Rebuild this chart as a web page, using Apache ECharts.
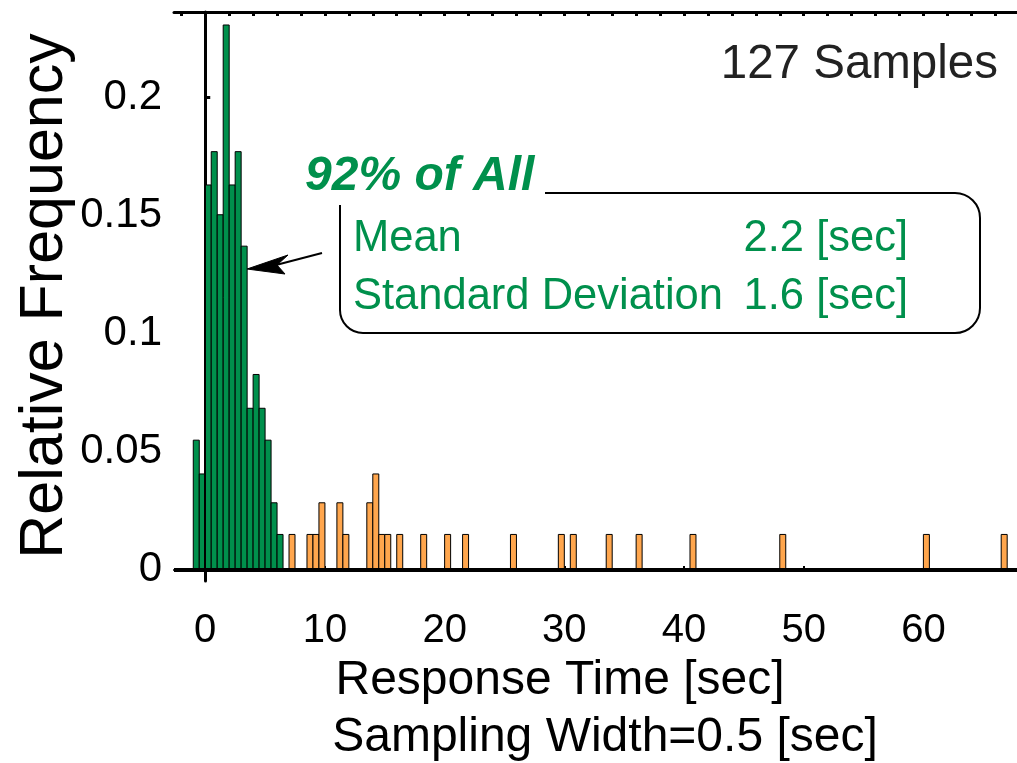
<!DOCTYPE html>
<html>
<head>
<meta charset="utf-8">
<script src="https://cdn.jsdelivr.net/npm/echarts@6/dist/echarts.min.js"></script>
<style>
  html, body { margin: 0; padding: 0; background: #fff; }
  #chart { width: 1017px; height: 763px; }
</style>
</head>
<body>
<div id="chart"></div>
<script>
// Histogram of response times, bin width 0.5 s (bin start values in seconds)
const binWidth = 0.5;

// Bins within the main cluster (green)
const mainBinStart = [-1, -0.5, 0, 0.5, 1, 1.5, 2, 2.5, 3, 3.5, 4, 4.5, 5, 5.5, 6];
const mainFreq = [0.0549, 0.0406, 0.1629, 0.1770, 0.1503, 0.2306, 0.1629, 0.1770,
                  0.1370, 0.0684, 0.0827, 0.0684, 0.0549, 0.0284, 0.0150];

// Remaining bins (orange)
const tailBinStart = [7, 8.5, 9, 9.5, 11, 11.5, 13.5, 14, 14.5, 15, 16, 18, 20, 21.5,
                      25.5, 29.5, 30.5, 33.5, 36, 40.5, 48, 60, 66.5];
const tailFreq = [0.0150, 0.0150, 0.0150, 0.0284, 0.0284, 0.0150, 0.0284, 0.0406, 0.0150,
                  0.0150, 0.0150, 0.0150, 0.0150, 0.0150, 0.0150, 0.0150, 0.0150, 0.0150,
                  0.0150, 0.0150, 0.0150, 0.0150, 0.0150];

// Axis ticks and labels
const xTickValues = [0, 10, 20, 30, 40, 50, 60];
const yTickValues = [0, 0.05, 0.1, 0.15, 0.2];
const yTickLabels = ['0', '0.05', '0.1', '0.15', '0.2'];
const topTickValues = [];
for (let v = -2; v <= 66; v += 2) topTickValues.push(v);

const GREEN = '#00904C';
const ORANGE = '#FFA64D';
const FONT = '"Liberation Sans", Arial, Helvetica, sans-serif';

function binSeries(starts, freqs, color) {
  return {
    type: 'custom',
    coordinateSystem: 'cartesian2d',
    xAxisIndex: 0,
    yAxisIndex: 0,
    z: 3,
    data: starts.map((s, i) => [s, freqs[i]]),
    renderItem: function (params, api) {
      const x0 = api.value(0);
      const v = api.value(1);
      const p0 = api.coord([x0, v]);
      const p1 = api.coord([x0 + binWidth, 0]);
      return {
        type: 'rect',
        shape: { x: p0[0], y: p0[1], width: p1[0] - p0[0], height: p1[1] - p0[1] },
        style: { fill: color, stroke: '#000', lineWidth: 1 }
      };
    }
  };
}

function label(text, x, y, size, align, color, extra) {
  return Object.assign({
    type: 'text', x: x, y: y,
    style: Object.assign({ text: text, fontSize: size, fontFamily: FONT, fill: color,
                           textAlign: align, textVerticalAlign: 'middle' },
                         (extra && extra.style) || {})
  }, (extra && extra.el) || {});
}

const chart = echarts.init(document.getElementById('chart'), null, { renderer: 'canvas' });

const option = {
  animation: false,
  backgroundColor: '#fff',
  grid: { left: 174, right: 0, top: 12, bottom: 182, containLabel: false },
  xAxis: [
    {
      type: 'value', position: 'bottom', min: -2.61, max: 67.82,
      axisLine: { show: true, lineStyle: { color: '#000', width: 2 } },
      axisTick: { show: true, inside: true, length: 4, customValues: xTickValues,
                  lineStyle: { color: '#000', width: 2 } },
      axisLabel: { show: true, customValues: xTickValues, margin: 30,
                   fontSize: 40, fontFamily: FONT, color: '#000' },
      splitLine: { show: false }
    },
    {
      type: 'value', position: 'top', min: -2.61, max: 67.82,
      axisLine: { show: true, lineStyle: { color: '#000', width: 3 } },
      axisTick: { show: true, inside: true, length: 4, customValues: topTickValues,
                  lineStyle: { color: '#000', width: 3 } },
      axisLabel: { show: false },
      splitLine: { show: false }
    }
  ],
  yAxis: {
    type: 'value', min: -0.0047, max: 0.2361,
    axisLine: { show: true, lineStyle: { color: '#000', width: 3 } },
    axisTick: { show: true, inside: true, length: 5, customValues: yTickValues,
                lineStyle: { color: '#000', width: 3 } },
    axisLabel: { show: true, customValues: yTickValues, margin: 12,
                 fontSize: 42, fontFamily: FONT, color: '#000',
                 formatter: function (v) {
                   const i = yTickValues.findIndex(t => Math.abs(t - v) < 1e-9);
                   return i >= 0 ? yTickLabels[i] : '';
                 } },
    splitLine: { show: false }
  },
  series: [
    {
      // vertical reference line at t = 0
      type: 'line', data: [], z: 1, silent: true,
      markLine: {
        silent: true, symbol: 'none', animation: false,
        label: { show: false },
        lineStyle: { color: '#000', width: 2, type: 'solid' },
        data: [{ xAxis: 0 }]
      }
    },
    binSeries(mainBinStart, mainFreq, GREEN),
    binSeries(tailBinStart, tailFreq, ORANGE),
    {
      // zero baseline
      type: 'line', data: [], z: 5, silent: true,
      markLine: {
        silent: true, symbol: 'none', animation: false,
        label: { show: false },
        lineStyle: { color: '#000', width: 4, type: 'solid' },
        data: [{ yAxis: 0 }]
      }
    }
  ],
  graphic: [
    label('Relative Frequency', 45, 296, 61, 'center', '#000', { el: { rotation: Math.PI / 2 } }),
    label('Response Time [sec]', 560, 681, 48, 'center', '#000'),
    label('Sampling Width=0.5 [sec]', 605, 738, 48, 'center', '#000'),
    label('127 Samples', 998, 65, 47.5, 'right', '#222'),
    label('92% of All', 305, 177, 48, 'left', GREEN, { style: { fontWeight: 'bold', fontStyle: 'italic' } }),
    label('Mean', 353, 239, 43.5, 'left', GREEN),
    label('2.2 [sec]', 908, 239, 43.5, 'right', GREEN),
    label('Standard Deviation', 353, 297, 43.5, 'left', GREEN),
    label('1.6 [sec]', 908, 297, 43.5, 'right', GREEN),
    // summary box outline
    { type: 'line', shape: { x1: 545, y1: 193, x2: 955, y2: 193 }, style: { stroke: '#000', lineWidth: 2 } },
    { type: 'arc', shape: { cx: 955, cy: 218, r: 25, startAngle: -Math.PI / 2, endAngle: 0, clockwise: true },
      style: { stroke: '#000', lineWidth: 2, fill: null } },
    { type: 'line', shape: { x1: 980, y1: 218, x2: 980, y2: 308 }, style: { stroke: '#000', lineWidth: 2 } },
    { type: 'arc', shape: { cx: 955, cy: 308, r: 25, startAngle: 0, endAngle: Math.PI / 2, clockwise: true },
      style: { stroke: '#000', lineWidth: 2, fill: null } },
    { type: 'line', shape: { x1: 955, y1: 333, x2: 363, y2: 333 }, style: { stroke: '#000', lineWidth: 2 } },
    { type: 'arc', shape: { cx: 363, cy: 310, r: 23, startAngle: Math.PI / 2, endAngle: Math.PI, clockwise: true },
      style: { stroke: '#000', lineWidth: 2, fill: null } },
    { type: 'line', shape: { x1: 340, y1: 310, x2: 340, y2: 205 }, style: { stroke: '#000', lineWidth: 2 } },
    // arrow pointing at the distribution
    { type: 'line', shape: { x1: 276, y1: 265, x2: 322, y2: 253 }, style: { stroke: '#000', lineWidth: 2 } },
    { type: 'polygon', shape: { points: [[247, 269], [288, 255], [277, 265], [285, 274]] },
      style: { fill: '#000', stroke: '#000', lineWidth: 1 } }
  ]
};

chart.setOption(option);
</script>
</body>
</html>
